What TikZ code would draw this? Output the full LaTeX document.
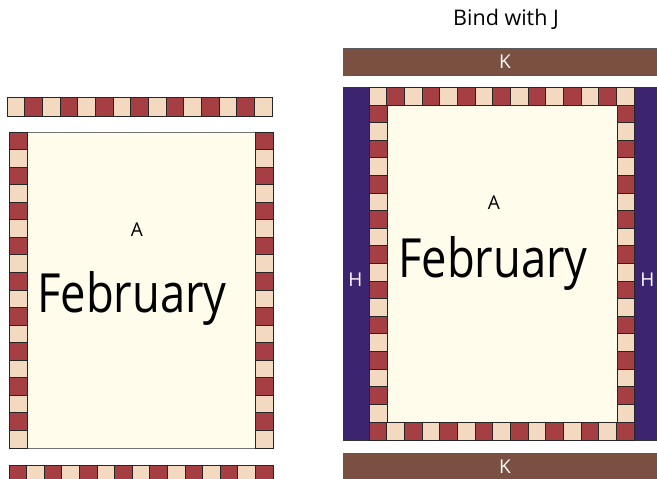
\documentclass[tikz,border=0pt]{standalone}
\usepackage{fontspec}
\setmainfont{Open Sans}
\newfontfamily\bigf[FakeStretch=0.84]{Open Sans}
\definecolor{lite}{HTML}{F2D9BF}
\definecolor{redsq}{HTML}{A53F43}
\definecolor{creambg}{HTML}{FFFCEB}
\definecolor{navy}{HTML}{3C2470}
\definecolor{bindbrown}{HTML}{7A5043}
\tikzset{
  sq/.style={draw=black!85, line width=0.9pt},
  body/.style={fill=creambg, draw=black!55, line width=1pt},
  bar/.style={fill=bindbrown, draw=black!65, line width=0.9pt},
  wlabel/.style={text=white, font=\fontsize{19}{19}\selectfont, inner sep=0pt},
  blabel/.style={text=black, font=\fontsize{19}{19}\selectfont, inner sep=0pt},
  feb/.style={text=black, font=\bigf\fontsize{54}{54}\selectfont, anchor=base, inner sep=0pt}
}
% horizontal checker row: x0,x1,y0,y1,n,startred
\newcommand\chkrow[6]{%
  \foreach \i in {1,...,#5}{%
    \pgfmathsetmacro\ua{#1+(\i-1)*(#2-#1)/#5}%
    \pgfmathsetmacro\ub{#1+\i*(#2-#1)/#5}%
    \pgfmathtruncatemacro\pq{mod(\i+#6,2)}%
    \ifnum\pq=1 \def\cc{lite}\else\def\cc{redsq}\fi
    \filldraw[sq, fill=\cc] (\ua,#3) rectangle (\ub,#4);
  }}
% vertical checker column: x0,x1,y0,y1,n,startred
\newcommand\chkcol[6]{%
  \foreach \i in {1,...,#5}{%
    \pgfmathsetmacro\ua{#3+(\i-1)*(#4-#3)/#5}%
    \pgfmathsetmacro\ub{#3+\i*(#4-#3)/#5}%
    \pgfmathtruncatemacro\pq{mod(\i+#6,2)}%
    \ifnum\pq=1 \def\cc{lite}\else\def\cc{redsq}\fi
    \filldraw[sq, fill=\cc] (#1,\ua) rectangle (#2,\ub);
  }}
\begin{document}
\begin{tikzpicture}[x=1pt, y=-1pt]
\useasboundingbox (0,0) rectangle (657,479);
\clip (0,0) rectangle (657,479);

% ---------------- left panel ----------------
\chkrow{7}{272}{97}{116}{15}{0}
\filldraw[body] (27,132) rectangle (255,448);
\chkcol{9}{27}{132}{448}{18}{1}
\chkcol{255}{273}{132}{448}{18}{1}
\chkrow{9}{273}{465}{483}{15}{1}
\node[blabel] (a1) at (137,230) {A};
\node[feb] (feb1) at (132,312) {February};

% ---------------- right panel ----------------
\node[blabel, anchor=base, font=\fontsize{21.5}{21.5}\selectfont] (bind) at (506,26) {Bind with J};
\filldraw[bar] (343,48) rectangle (662,75);
\node[wlabel] (k1) at (505,61.5) {K};
\filldraw[fill=navy, draw=black!80, line width=0.8pt] (343,87) rectangle (662,440);
\filldraw[body] (387,105) rectangle (617,422);
\chkrow{369}{634}{87}{105}{15}{0}
\chkrow{369}{634}{422}{440}{15}{1}
\chkcol{369}{387}{105}{422}{18}{1}
\chkcol{617}{634}{105}{422}{18}{1}
\node[wlabel] (h1) at (355.5,280) {H};
\node[wlabel] (h2) at (647.5,280) {H};
\node[blabel] (a2) at (494,203) {A};
\node[feb] (feb2) at (493,277) {February};
\filldraw[bar] (343,453) rectangle (662,486);
\node[wlabel] (k2) at (505,467) {K};
\end{tikzpicture}
\end{document}
